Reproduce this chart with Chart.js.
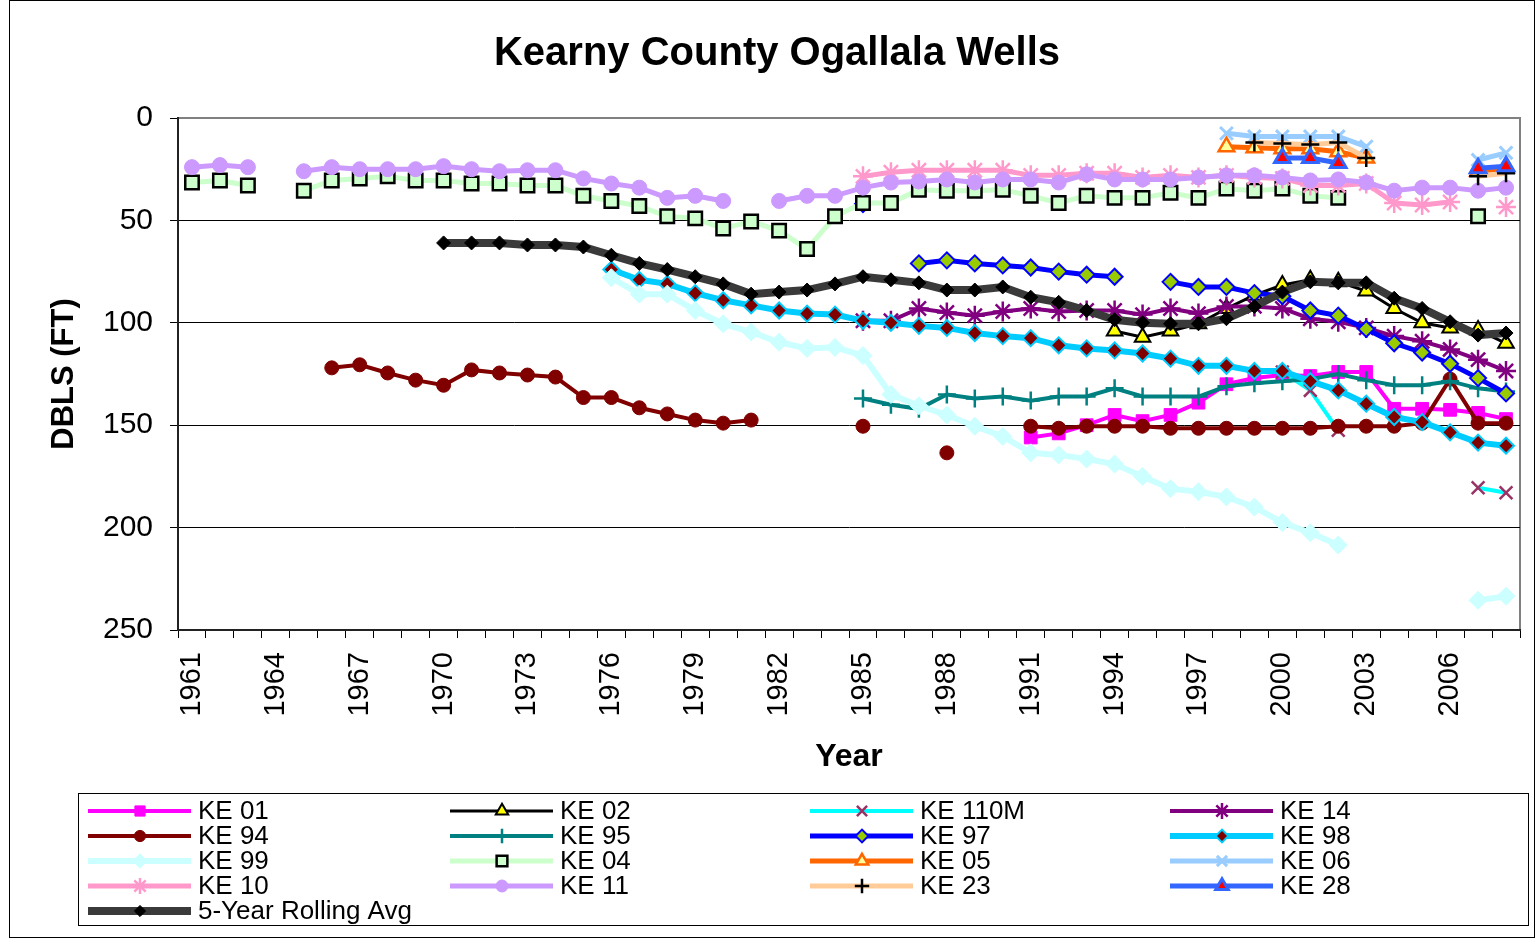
<!DOCTYPE html>
<html>
<head>
<meta charset="utf-8">
<title>Kearny County Ogallala Wells</title>
<script src="https://cdn.jsdelivr.net/npm/chart.js"></script>
<style>
  html, body { margin: 0; padding: 0; background: #fff; overflow: hidden; }
  canvas { display: block; }
</style>
</head>
<body>
<canvas id="wells" width="1536" height="938"></canvas>
<script>
const _ = null;

// categories (one per year)
const years = [
  '1961','1962','1963','1964','1965','1966','1967','1968','1969','1970',
  '1971','1972','1973','1974','1975','1976','1977','1978','1979','1980',
  '1981','1982','1983','1984','1985','1986','1987','1988','1989','1990',
  '1991','1992','1993','1994','1995','1996','1997','1998','1999','2000',
  '2001','2002','2003','2004','2005','2006','2007','2008'
];
// only every third year gets a label
const labelEvery = 3;
const yTicks = [0, 50, 100, 150, 200, 250];

// depth below land surface (ft), rows: 1961-70 / 71-80 / 81-90 / 91-2000 / 2001-08
const ke01 = [
  _,_,_,_,_,_,_,_,_,_,
  _,_,_,_,_,_,_,_,_,_,
  _,_,_,_,_,_,_,_,_,_,
  156,154,150,145,148,145,139,130,127,125.5,
  126,124,124,142,142,142.5,144,147
];
const ke02 = [
  _,_,_,_,_,_,_,_,_,_,
  _,_,_,_,_,_,_,_,_,_,
  _,_,_,_,_,_,_,_,_,_,
  _,_,_,104,107,104,100.5,93,86.5,81.5,
  79,80,84.5,93,100,102.5,103.5,110
];
const ke110m = [
  _,_,_,_,_,_,_,_,_,_,
  _,_,_,_,_,_,_,_,_,_,
  _,_,_,_,_,_,_,_,_,_,
  _,_,_,_,_,_,_,_,_,124,
  133,152.5,_,_,_,_,180.5,183
];
const ke14 = [
  _,_,_,_,_,_,_,_,_,_,
  _,_,_,_,_,_,_,_,_,_,
  _,_,_,_,99,99,93,95,96.5,94.5,
  93,94.5,94,94,96,93,95.5,92,92,93,
  98,99.5,102.5,106.5,109,113,118,123.5
];
const ke94 = [
  _,_,_,_,_,122,120.5,124.5,128,130.5,
  123,124.5,125.5,126.5,136.5,136.5,141.5,144.5,147.5,149,
  147.5,_,_,_,150.5,_,_,163.5,_,_,
  150.5,151.5,150.5,150.5,150.5,151.5,151.5,151.5,151.5,151.5,
  151.5,150.5,150.5,150.5,149,127.5,149,149
];
const ke95 = [
  _,_,_,_,_,_,_,_,_,_,
  _,_,_,_,_,_,_,_,_,_,
  _,_,_,_,137,140,142,135,137,136,
  138,136,136,132,136,136,136,131,129.5,128.5,
  127.5,125,128,130.5,130.5,128.5,132,133.5
];
const ke97 = [
  _,_,_,_,_,_,_,_,_,_,
  _,_,_,_,_,_,_,_,_,_,
  _,_,_,_,42,_,71,69.5,71,72,
  73,75,76.5,77.5,_,80,82.5,82.5,85.5,87,
  94,96.5,103,110,114.5,120,127,134.5
];
const ke98 = [
  _,_,_,_,_,_,_,_,_,_,
  _,_,_,_,_,74,79,81,85.5,89,
  91.5,94,95.5,96,99,100,101.5,102.5,105,106.5,
  107.5,111,112.5,113.5,115,117.5,121,121,123.5,123.5,
  128.5,133,139.5,146,148.5,153.5,158.5,160
];
const ke99 = [
  _,_,_,_,_,_,_,_,_,_,
  _,_,_,_,_,78,86,86,94,100.5,
  104.5,109.5,112.5,112,116,135,140.5,145,150.5,155.5,
  163.5,164.5,166.5,169,175,181,182.5,185,190,197.5,
  202.5,208.5,_,_,_,_,235.5,233.5
];
const ke04 = [
  31.5,30.5,33,_,35.5,30.5,29.5,28.5,30.5,30.5,
  32,32,33,33,38,40.5,43,48,49,54,
  50.5,55,64,48,41.5,41.5,35,35.5,35.5,35,
  38,41.5,38,39,39,36.5,39,34.5,35.5,34.5,
  38,39,_,_,_,_,48,_
];
const ke05 = [
  _,_,_,_,_,_,_,_,_,_,
  _,_,_,_,_,_,_,_,_,_,
  _,_,_,_,_,_,_,_,_,_,
  _,_,_,_,_,_,_,14,14.5,15,
  15,16.5,19.5,_,_,_,26,24.5
];
const ke06 = [
  _,_,_,_,_,_,_,_,_,_,
  _,_,_,_,_,_,_,_,_,_,
  _,_,_,_,_,_,_,_,_,_,
  _,_,_,_,_,_,_,7.5,9,9,
  9,9,14,_,_,_,20.5,17
];
const ke10 = [
  _,_,_,_,_,_,_,_,_,_,
  _,_,_,_,_,_,_,_,_,_,
  _,_,_,_,28.5,26.5,25.5,25.5,25.5,25.5,
  28,28,27,27,29,28,29,28,29,29.5,
  33,33,32,41.5,42.5,41,_,43.5
];
const ke11 = [
  24,23,24,_,26,24,25,25,25,23.5,
  25,26,25.5,25.5,29.5,32,34,39,38,40.5,
  _,40.5,38,38,34,31.5,31,30,31.5,30,
  30,31.5,27.5,30,30,30,29,28,28,29,
  30.5,30,31.5,35.5,34,34,35.5,34
];
const ke23 = [
  _,_,_,_,_,_,_,_,_,_,
  _,_,_,_,_,_,_,_,_,_,
  _,_,_,_,_,_,_,_,_,_,
  _,_,_,_,_,_,_,_,12,12.5,
  13,12,19.5,_,_,_,28.5,27
];
const ke28 = [
  _,_,_,_,_,_,_,_,_,_,
  _,_,_,_,_,_,_,_,_,_,
  _,_,_,_,_,_,_,_,_,_,
  _,_,_,_,_,_,_,_,_,19.5,
  19.5,22,_,_,_,_,24.5,23.5
];
const rollingAvg = [
  _,_,_,_,_,_,_,_,_,61,
  61,61,62,62,63,67,71,74,77.5,81,
  86,85,84,81,77.5,79,80.5,84,84,82.5,
  87.5,90,94,98.5,100,100.5,100.5,98,92,85,
  80,80.5,80.5,88,93,99.5,106,105
];

const FONT = '"Liberation Sans", Arial, Helvetica, sans-serif';
Chart.defaults.font.family = FONT;
Chart.defaults.color = '#000';

// look of each series (line colour, marker)
const series = [
  { label: 'KE 01', data: ke01, line: '#FF00FF', width: 4, marker: 'rect', radius: 9, fill: '#FF00FF', edge: '#FF00FF', edgeW: 1 },
  { label: 'KE 02', data: ke02, line: '#000000', width: 3, marker: 'triangle', radius: 9, fill: '#FFFF00', edge: '#000000', edgeW: 2 },
  { label: 'KE 110M', data: ke110m, line: '#00FFFF', width: 4, marker: 'crossRot', radius: 9, fill: '#993366', edge: '#993366', edgeW: 2.5 },
  { label: 'KE 14', data: ke14, line: '#800080', width: 4, marker: 'star', radius: 10, fill: '#800080', edge: '#800080', edgeW: 2.5 },
  { label: 'KE 94', data: ke94, line: '#800000', width: 4, marker: 'circle', radius: 7, fill: '#800000', edge: '#800000', edgeW: 1 },
  { label: 'KE 95', data: ke95, line: '#008080', width: 4, marker: 'cross', radius: 9, fill: '#008080', edge: '#008080', edgeW: 2.5 },
  { label: 'KE 97', data: ke97, line: '#0000FF', width: 5, marker: 'rectRot', radius: 8, fill: '#99CC00', edge: '#0000FF', edgeW: 2 },
  { label: 'KE 98', data: ke98, line: '#00CCFF', width: 6, marker: 'rectRot', radius: 8, fill: '#800000', edge: '#00CCFF', edgeW: 2 },
  { label: 'KE 99', data: ke99, line: '#CCFFFF', width: 6, marker: 'rectRot', radius: 9, fill: '#CCFFFF', edge: '#CCFFFF', edgeW: 1 },
  { label: 'KE 04', data: ke04, line: '#CCFFCC', width: 5, marker: 'rect', radius: 9.5, fill: '#CCFFCC', edge: '#000000', edgeW: 2.5 },
  { label: 'KE 05', data: ke05, line: '#FF6600', width: 5, marker: 'triangle', radius: 9, fill: '#FFFF99', edge: '#FF6600', edgeW: 2.5 },
  { label: 'KE 06', data: ke06, line: '#99CCFF', width: 5, marker: 'crossRot', radius: 9, fill: '#99CCFF', edge: '#99CCFF', edgeW: 3 },
  { label: 'KE 10', data: ke10, line: '#FF99CC', width: 5, marker: 'star', radius: 10, fill: '#FF99CC', edge: '#FF99CC', edgeW: 2.5 },
  { label: 'KE 11', data: ke11, line: '#CC99FF', width: 5, marker: 'circle', radius: 7.5, fill: '#CC99FF', edge: '#CC99FF', edgeW: 1 },
  { label: 'KE 23', data: ke23, line: '#FFCC99', width: 5, marker: 'cross', radius: 9, fill: '#000000', edge: '#000000', edgeW: 2.5 },
  { label: 'KE 28', data: ke28, line: '#3366FF', width: 5, marker: 'triangle', radius: 9, fill: '#FF0000', edge: '#3366FF', edgeW: 3 },
  { label: '5-Year Rolling Avg', data: rollingAvg, line: '#3a3a3a', width: 8, marker: 'rectRot', radius: 7, fill: '#000000', edge: '#000000', edgeW: 1 }
];

const datasets = series.map((s, i) => ({
  label: s.label,
  data: s.data,
  borderColor: s.line,
  borderWidth: s.width,
  backgroundColor: s.fill,
  pointStyle: s.marker,
  pointRadius: s.radius,
  pointBackgroundColor: s.fill,
  pointBorderColor: s.edge,
  pointBorderWidth: s.edgeW,
  spanGaps: false,
  tension: 0,
  clip: false,
  order: series.length - i // later series drawn on top, like Excel
}));

// background, outer frame, title, grey plot frame
const framePlugin = {
  id: 'frame',
  beforeDraw(chart) {
    const ctx = chart.ctx;
    const a = chart.chartArea;
    ctx.save();
    ctx.fillStyle = '#fff';
    ctx.fillRect(0, 0, chart.width, chart.height);
    ctx.strokeStyle = '#000';
    ctx.lineWidth = 1;
    ctx.strokeRect(9.5, 0.5, 1525, 937);
    ctx.strokeStyle = '#808080';
    ctx.lineWidth = 2;
    ctx.strokeRect(a.left, a.top, a.right - a.left, a.bottom - a.top);
    ctx.fillStyle = '#000';
    ctx.font = 'bold 40px ' + FONT;
    ctx.textAlign = 'center';
    ctx.textBaseline = 'middle';
    ctx.fillText('Kearny County Ogallala Wells', 777, 54);
    ctx.restore();
  }
};

// Excel style legend: line sample with marker, 4 columns
const legendPlugin = {
  id: 'excelLegend',
  afterDraw(chart) {
    const ctx = chart.ctx;
    const cols = [88, 450, 810, 1170];
    ctx.save();
    ctx.strokeStyle = '#000';
    ctx.lineWidth = 1;
    ctx.strokeRect(78.5, 793.5, 1450, 132);
    series.forEach((s, i) => {
      const x = cols[i % 4];
      const y = 811 + Math.floor(i / 4) * 25;
      ctx.strokeStyle = s.line;
      ctx.lineWidth = s.width;
      ctx.beginPath();
      ctx.moveTo(x, y);
      ctx.lineTo(x + 103, y);
      ctx.stroke();
      ctx.fillStyle = s.fill;
      ctx.strokeStyle = s.edge;
      ctx.lineWidth = s.edgeW;
      Chart.helpers.drawPoint(ctx, {
        pointStyle: s.marker, radius: s.radius * 0.8, rotation: 0, borderWidth: s.edgeW
      }, x + 52, y);
      ctx.fillStyle = '#000';
      ctx.font = '26px ' + FONT;
      ctx.textAlign = 'left';
      ctx.textBaseline = 'middle';
      ctx.fillText(s.label, x + 110, y + 1);
    });
    ctx.restore();
  }
};

new Chart(document.getElementById('wells'), {
  type: 'line',
  data: { labels: years, datasets },
  plugins: [framePlugin, legendPlugin],
  options: {
    responsive: false,
    animation: false,
    events: [],
    layout: { padding: { top: 118, right: 16, bottom: 148, left: 0 } },
    plugins: {
      legend: { display: false },
      title: { display: false },
      tooltip: { enabled: false }
    },
    scales: {
      x: {
        type: 'category',
        offset: true,
        afterFit: (scale) => {
          scale.height = 160;
          scale.paddingLeft = 0;
          scale.paddingRight = 0;
        },
        grid: { offset: true, drawOnChartArea: false, tickLength: 8, color: '#000', lineWidth: 1 },
        border: { color: '#222', width: 2 },
        ticks: {
          autoSkip: false,
          maxRotation: 90,
          minRotation: 90,
          padding: 14,
          font: { size: 29 },
          color: '#000',
          callback: (val, idx) => (idx % labelEvery === 0 ? years[idx] : '')
        },
        title: {
          display: true,
          text: 'Year',
          font: { size: 32, weight: 'bold' },
          color: '#000',
          padding: { top: 0, bottom: 14 }
        }
      },
      y: {
        reverse: true,
        min: yTicks[0],
        max: yTicks[yTicks.length - 1],
        afterFit: (scale) => { scale.width = 178; },
        afterBuildTicks: (scale) => { scale.ticks = yTicks.map(v => ({ value: v })); },
        grid: {
          color: (c) => (c.tick && c.tick.value === 0 ? 'rgba(0,0,0,0)' : '#000'),
          tickColor: '#000',
          tickLength: 8,
          lineWidth: 1
        },
        border: { color: '#222', width: 2 },
        ticks: { padding: 17, font: { size: 30 }, color: '#000' },
        title: {
          display: true,
          text: 'DBLS (FT)',
          font: { size: 31, weight: 'bold' },
          color: '#000',
          padding: { top: 46, bottom: 0 }
        }
      }
    }
  }
});
</script>
</body>
</html>
